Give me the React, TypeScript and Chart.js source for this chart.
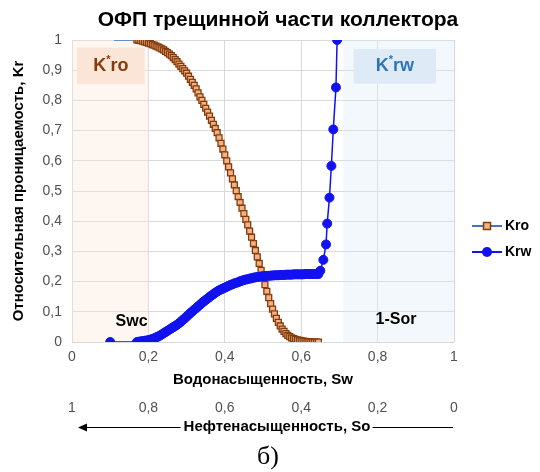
import React, { useEffect, useRef } from 'react';
import { Chart, registerables } from 'chart.js';

Chart.register(...registerables);

const FONT = '"Liberation Sans", Arial, sans-serif';
const SERIF = '"Liberation Serif", "Times New Roman", serif';

const chartTitle = 'ОФП трещинной части коллектора';
const xTitle = 'Водонасыщенность, Sw';
const x2Title = 'Нефтенасыщенность, So';
const yTitle = 'Относительная проницаемость, Kr';
const caption = 'б)';
const seriesNames = ['Kro', 'Krw'];

// water saturation grid shared by both curves
const swGrid = [
  0.17, 0.175, 0.18, 0.185, 0.19, 0.195, 0.2, 0.205, 0.21, 0.215,
  0.22, 0.225, 0.23, 0.235, 0.24, 0.245, 0.25, 0.255, 0.26, 0.265,
  0.27, 0.275, 0.28, 0.285, 0.29, 0.295, 0.3, 0.305, 0.31, 0.315,
  0.32, 0.325, 0.33, 0.335, 0.34, 0.345, 0.35, 0.355, 0.36, 0.365,
  0.37, 0.375, 0.38, 0.385, 0.39, 0.395, 0.4, 0.405, 0.41, 0.415,
  0.42, 0.425, 0.43, 0.435, 0.44, 0.445, 0.45, 0.455, 0.46, 0.465,
  0.47, 0.475, 0.48, 0.485, 0.49, 0.495, 0.5, 0.505, 0.51, 0.515,
  0.52, 0.525, 0.53, 0.535, 0.54, 0.545, 0.55, 0.555, 0.56, 0.565,
  0.57, 0.575, 0.58, 0.585, 0.59, 0.595, 0.6, 0.605, 0.61, 0.615,
  0.62, 0.625, 0.63, 0.635, 0.64, 0.645,
];

const kroValues = [
  1.0, 0.999, 0.998, 0.996, 0.994, 0.992, 0.99, 0.988, 0.985, 0.983,
  0.98, 0.977, 0.974, 0.971, 0.967, 0.962, 0.958, 0.953, 0.948, 0.942,
  0.935, 0.928, 0.92, 0.913, 0.905, 0.898, 0.89, 0.88, 0.87, 0.86,
  0.85, 0.838, 0.825, 0.812, 0.8, 0.787, 0.774, 0.761, 0.748, 0.734,
  0.721, 0.707, 0.693, 0.676, 0.658, 0.639, 0.62, 0.6, 0.58, 0.56,
  0.54, 0.52, 0.501, 0.481, 0.462, 0.443, 0.425, 0.406, 0.388, 0.367,
  0.347, 0.326, 0.303, 0.282, 0.26, 0.237, 0.213, 0.19, 0.168, 0.147,
  0.127, 0.109, 0.093, 0.078, 0.065, 0.053, 0.043, 0.035, 0.028, 0.022,
  0.018, 0.014, 0.011, 0.009, 0.007, 0.005, 0.004, 0.003, 0.002, 0.001,
  0.001, 0, 0, 0, 0, 0,
];

const krwValues = [
  0.0, 0.001, 0.002, 0.003, 0.004, 0.005, 0.006, 0.008, 0.01, 0.012,
  0.015, 0.018, 0.021, 0.025, 0.029, 0.033, 0.037, 0.041, 0.045, 0.049,
  0.053, 0.057, 0.062, 0.067, 0.073, 0.078, 0.084, 0.09, 0.096, 0.101,
  0.107, 0.112, 0.118, 0.123, 0.129, 0.134, 0.139, 0.144, 0.149, 0.154,
  0.158, 0.163, 0.167, 0.171, 0.174, 0.177, 0.18, 0.183, 0.186, 0.189,
  0.191, 0.194, 0.196, 0.198, 0.201, 0.203, 0.205, 0.207, 0.208, 0.21,
  0.211, 0.213, 0.214, 0.215, 0.216, 0.217, 0.218, 0.218, 0.219, 0.219,
  0.22, 0.22, 0.221, 0.221, 0.221, 0.222, 0.222, 0.222, 0.223, 0.223,
  0.223, 0.223, 0.224, 0.224, 0.224, 0.224, 0.224, 0.224, 0.225, 0.225,
  0.225, 0.225, 0.225, 0.225, 0.225, 0.225,
];

const kroHeadSw = [0.11];
const kroHead = [1];
const krwHeadSw = [0.1];
const krwHead = [0];
const krwTailSw = [0.65, 0.658, 0.665, 0.668, 0.674, 0.679, 0.684, 0.691, 0.694];
const krwTail = [0.236, 0.272, 0.323, 0.392, 0.478, 0.583, 0.704, 0.843, 1.0];

const swcZone = [0, 0.2];
const sorZone = [0.71, 1];
const kroLabelBox = [0.013, 0.19, 0.855, 0.975];
const krwLabelBox = [0.737, 0.953, 0.855, 0.97];
const swcLabel = [0.156, 0.066];
const sorLabel = [0.848, 0.073];

const GRID = '#d9d9d9';
const TICK = '#505050';
const BLUE = '#1212f0';
const KRO_LINE = '#4472c4';
const KRO_FILL = '#f4b183';
const KRO_EDGE = '#843c0c';

const fmt = (v: number | string) => String(Math.round(Number(v) * 10) / 10).replace('.', ',');

function drawKStar(ctx: CanvasRenderingContext2D, cx: number, cy: number, rest: string, color: string) {
  const big = `bold 18px ${FONT}`;
  const small = `bold 11px ${FONT}`;
  ctx.font = big;
  const wK = ctx.measureText('K').width;
  const wR = ctx.measureText(rest).width;
  ctx.font = small;
  const wS = ctx.measureText('*').width;
  let x = cx - (wK + wS + wR) / 2;
  ctx.fillStyle = color;
  ctx.textBaseline = 'middle';
  ctx.textAlign = 'left';
  ctx.font = big;
  ctx.fillText('K', x, cy);
  x += wK;
  ctx.font = small;
  ctx.fillText('*', x, cy - 6);
  x += wS;
  ctx.font = big;
  ctx.fillText(rest, x, cy);
}

const decor = {
  id: 'decor',
  beforeDatasetsDraw(chart: any) {
    const { ctx, chartArea } = chart;
    const xs = chart.scales.x;
    const ys = chart.scales.y;
    ctx.save();
    ctx.fillStyle = 'rgba(251,229,214,0.35)';
    ctx.fillRect(xs.getPixelForValue(swcZone[0]), chartArea.top, xs.getPixelForValue(swcZone[1]) - xs.getPixelForValue(swcZone[0]), chartArea.bottom - chartArea.top);
    ctx.fillStyle = 'rgba(222,235,247,0.35)';
    ctx.fillRect(xs.getPixelForValue(sorZone[0]), chartArea.top, xs.getPixelForValue(sorZone[1]) - xs.getPixelForValue(sorZone[0]), chartArea.bottom - chartArea.top);
    const box = (b: number[], color: string) => {
      const x0 = xs.getPixelForValue(b[0]);
      const x1 = xs.getPixelForValue(b[1]);
      const y0 = ys.getPixelForValue(b[3]);
      const y1 = ys.getPixelForValue(b[2]);
      ctx.fillStyle = color;
      ctx.fillRect(x0, y0, x1 - x0, y1 - y0);
      return [(x0 + x1) / 2, (y0 + y1) / 2];
    };
    const c1 = box(kroLabelBox, '#fbe5d6');
    const c2 = box(krwLabelBox, '#deebf7');
    drawKStar(ctx, c1[0], c1[1], 'ro', KRO_EDGE);
    drawKStar(ctx, c2[0], c2[1], 'rw', '#2e75b6');
    ctx.restore();
  },
  afterDraw(chart: any) {
    const { ctx } = chart;
    const xs = chart.scales.x;
    const ys = chart.scales.y;
    ctx.save();
    ctx.fillStyle = '#000';
    ctx.textAlign = 'center';
    ctx.textBaseline = 'middle';
    ctx.font = `bold 21px ${FONT}`;
    ctx.fillText(chartTitle, 278, 20);
    ctx.font = `bold 16px ${FONT}`;
    ctx.fillText('Swc', xs.getPixelForValue(swcLabel[0]), ys.getPixelForValue(swcLabel[1]));
    ctx.fillText('1-Sor', xs.getPixelForValue(sorLabel[0]), ys.getPixelForValue(sorLabel[1]));
    ctx.font = `bold 15px ${FONT}`;
    const tw = ctx.measureText(x2Title).width;
    const tcx = 277;
    const ty = 427;
    ctx.fillText(x2Title, tcx, ty);
    const xl = chart.scales.x2.left + 6;
    const xr = chart.scales.x2.right - 1;
    ctx.strokeStyle = '#000';
    ctx.lineWidth = 1;
    ctx.beginPath();
    ctx.moveTo(xl + 6, ty + 0.5);
    ctx.lineTo(tcx - tw / 2 - 3, ty + 0.5);
    ctx.moveTo(tcx + tw / 2 + 2, ty + 0.5);
    ctx.lineTo(xr, ty + 0.5);
    ctx.stroke();
    ctx.fillStyle = '#000';
    ctx.beginPath();
    ctx.moveTo(xl, ty + 0.5);
    ctx.lineTo(xl + 9, ty - 3.5);
    ctx.lineTo(xl + 9, ty + 4.5);
    ctx.closePath();
    ctx.fill();
    ctx.font = `26px ${SERIF}`;
    ctx.fillText(caption, 268, 457);
    const lx = 472;
    const rows = [226, 252];
    ctx.textAlign = 'left';
    ctx.font = `bold 14px ${FONT}`;
    ctx.strokeStyle = KRO_LINE;
    ctx.lineWidth = 2;
    ctx.beginPath();
    ctx.moveTo(lx, rows[0]);
    ctx.lineTo(lx + 30, rows[0]);
    ctx.stroke();
    ctx.fillStyle = KRO_FILL;
    ctx.strokeStyle = KRO_EDGE;
    ctx.lineWidth = 1.5;
    ctx.fillRect(lx + 11.5, rows[0] - 3.5, 7, 7);
    ctx.strokeRect(lx + 11.5, rows[0] - 3.5, 7, 7);
    ctx.fillStyle = '#000';
    ctx.fillText(seriesNames[0], lx + 33, rows[0]);
    ctx.strokeStyle = BLUE;
    ctx.lineWidth = 2;
    ctx.beginPath();
    ctx.moveTo(lx, rows[1]);
    ctx.lineTo(lx + 30, rows[1]);
    ctx.stroke();
    ctx.fillStyle = BLUE;
    ctx.beginPath();
    ctx.arc(lx + 15, rows[1], 5, 0, Math.PI * 2);
    ctx.fill();
    ctx.fillStyle = '#000';
    ctx.fillText(seriesNames[1], lx + 33, rows[1]);
    ctx.restore();
  },
};

export default function App() {
  const ref = useRef<HTMLCanvasElement | null>(null);
  useEffect(() => {
    const canvas = ref.current;
    if (!canvas) return;
    const kroData = [
      ...kroHeadSw.map((x, i) => ({ x, y: kroHead[i] })),
      ...swGrid.map((x, i) => ({ x, y: kroValues[i] })),
    ];
    const krwData = [
      ...krwHeadSw.map((x, i) => ({ x, y: krwHead[i] })),
      ...swGrid.map((x, i) => ({ x, y: krwValues[i] })),
      ...krwTailSw.map((x, i) => ({ x, y: krwTail[i] })),
    ];
    const tickFont = { family: FONT, size: 14 };
    const titleFont = { family: FONT, size: 15, weight: 'bold' as const };
    const chart = new Chart(canvas, {
      type: 'scatter',
      data: {
        datasets: [
          {
            label: seriesNames[1],
            data: krwData,
            showLine: true,
            borderColor: BLUE,
            backgroundColor: BLUE,
            borderWidth: 1.5,
            pointRadius: 4.5,
            pointBorderWidth: 1,
            pointBackgroundColor: BLUE,
            pointBorderColor: BLUE,
            pointStyle: 'circle',
            order: 0,
          },
          {
            label: seriesNames[0],
            data: kroData,
            showLine: true,
            borderColor: KRO_LINE,
            backgroundColor: KRO_FILL,
            borderWidth: 1.5,
            pointRadius: (c: any) => (c.dataIndex < kroHead.length ? 0 : 4.2),
            pointBorderWidth: 1.3,
            pointBackgroundColor: KRO_FILL,
            pointBorderColor: KRO_EDGE,
            pointStyle: 'rect',
            order: 1,
          },
        ],
      },
      options: {
        animation: false,
        responsive: false,
        layout: { padding: { left: 0, top: 40, right: 86, bottom: 37 } },
        plugins: { legend: { display: false }, tooltip: { enabled: false }, title: { display: false } },
        scales: {
          x: {
            type: 'linear',
            position: 'bottom',
            min: 0,
            max: 1,
            weight: 0,
            ticks: { stepSize: 0.2, callback: (v: any) => fmt(v), color: TICK, font: tickFont, padding: 7, maxRotation: 0 },
            grid: { color: GRID, drawTicks: false },
            border: { display: true, color: GRID },
            title: { display: true, text: xTitle, color: '#000', font: titleFont, padding: { top: 0, bottom: 0 } },
            afterFit: (s: any) => { s.height = 47; },
          },
          x2: {
            type: 'linear',
            position: 'bottom',
            min: 0,
            max: 1,
            reverse: true,
            weight: 1,
            ticks: { stepSize: 0.2, callback: (v: any) => fmt(v), color: TICK, font: tickFont, padding: 11, maxRotation: 0 },
            grid: { display: false, drawTicks: false },
            border: { display: false },
            title: { display: false },
            afterFit: (s: any) => { s.height = 46; },
          },
          y: {
            type: 'linear',
            min: 0,
            max: 1,
            ticks: { stepSize: 0.1, callback: (v: any) => fmt(v), color: TICK, font: tickFont, padding: 10 },
            grid: { color: GRID, drawTicks: false },
            border: { display: true, color: GRID },
            title: { display: true, text: yTitle, color: '#000', font: titleFont, padding: { top: 10, bottom: 0 } },
            afterFit: (s: any) => { s.width = 72; },
          },
        },
      } as any,
      plugins: [decor],
    });
    return () => chart.destroy();
  }, []);
  return (
    <div style={{ position: 'absolute', left: 0, top: 0, width: 540, height: 472, background: '#fff' }}>
      <canvas ref={ref} width={540} height={472} style={{ display: 'block' }} />
    </div>
  );
}
